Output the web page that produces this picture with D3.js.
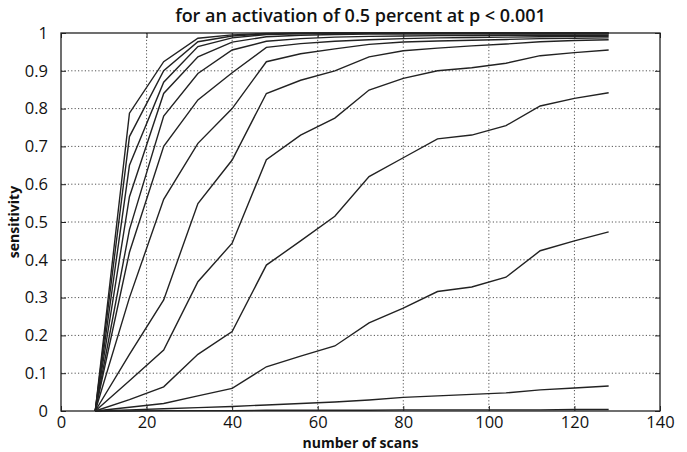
<!DOCTYPE html>
<html>
<head>
<meta charset="utf-8">
<script src="https://cdn.jsdelivr.net/npm/d3@7"></script>
<style>
body { margin: 0; background: #fff; }
text { font-family: "Open Sans", sans-serif; fill: #111; }
</style>
</head>
<body>
<svg id="chart"></svg>
<script>
// number of scans (x positions of every curve)
var scans = [8, 16, 24, 32, 40, 48, 56, 64, 72, 80, 88, 96, 104, 112, 120, 128];

// sensitivity curves, highest to lowest
var s1  = [0, 0.788, 0.924, 0.986, 0.995, 0.999, 1, 1, 1, 1, 1, 1, 1, 1, 1, 1];
var s2  = [0, 0.726, 0.900, 0.977, 0.992, 0.998, 0.999, 1, 1, 1, 1, 1, 1, 1, 1, 1];
var s3  = [0, 0.650, 0.870, 0.964, 0.987, 0.996, 0.998, 0.999, 0.999, 0.999, 0.999, 0.999, 0.999, 0.999, 0.999, 0.999];
var s4  = [0, 0.567, 0.840, 0.937, 0.976, 0.990, 0.994, 0.996, 0.997, 0.997, 0.997, 0.997, 0.997, 0.997, 0.997, 0.997];
var s5  = [0, 0.480, 0.780, 0.893, 0.955, 0.978, 0.985, 0.989, 0.991, 0.992, 0.993, 0.993, 0.994, 0.994, 0.994, 0.994];
var s6  = [0, 0.420, 0.700, 0.823, 0.895, 0.962, 0.972, 0.978, 0.982, 0.985, 0.987, 0.988, 0.989, 0.990, 0.991, 0.991];
var s7  = [0, 0.300, 0.560, 0.708, 0.800, 0.924, 0.945, 0.958, 0.970, 0.976, 0.979, 0.981, 0.983, 0.985, 0.986, 0.987];
var s8  = [0, 0.150, 0.294, 0.549, 0.664, 0.840, 0.875, 0.900, 0.937, 0.953, 0.960, 0.966, 0.971, 0.977, 0.980, 0.982];
var s9  = [0, 0.080, 0.161, 0.342, 0.444, 0.665, 0.730, 0.775, 0.849, 0.880, 0.900, 0.908, 0.920, 0.940, 0.948, 0.955];
var s10 = [0, 0.030, 0.064, 0.150, 0.210, 0.386, 0.450, 0.515, 0.620, 0.670, 0.720, 0.730, 0.755, 0.807, 0.827, 0.842];
var s11 = [0, 0.010, 0.020, 0.040, 0.060, 0.117, 0.145, 0.172, 0.233, 0.272, 0.316, 0.328, 0.354, 0.424, 0.450, 0.474];
var s12 = [0, 0.003, 0.006, 0.009, 0.012, 0.016, 0.020, 0.024, 0.029, 0.036, 0.040, 0.044, 0.048, 0.056, 0.061, 0.066];
var s13 = [0, 0, 0.001, 0.001, 0.001, 0.002, 0.002, 0.002, 0.002, 0.003, 0.003, 0.003, 0.003, 0.003, 0.004, 0.004];
var series = [s1, s2, s3, s4, s5, s6, s7, s8, s9, s10, s11, s12, s13];

var xTicks = [0, 20, 40, 60, 80, 100, 120, 140];
var yTicks = [0, 0.1, 0.2, 0.3, 0.4, 0.5, 0.6, 0.7, 0.8, 0.9, 1];
var yTickLabels = ["0", "0.1", "0.2", "0.3", "0.4", "0.5", "0.6", "0.7", "0.8", "0.9", "1"];

var margin = {top: 33, right: 27, bottom: 41, left: 61},
    width = 687 - margin.left - margin.right,
    height = 452 - margin.top - margin.bottom;

var svg = d3.select("#chart")
    .attr("width", 687)
    .attr("height", 452)
  .append("g")
    .attr("transform", "translate(" + margin.left + "," + margin.top + ")");

var x = d3.scaleLinear().domain([0, 140]).range([0, width]);
var y = d3.scaleLinear().domain([0, 1]).range([height, 0]);

// dotted grid
var grid = svg.append("g").attr("class", "grid");

grid.selectAll("line.gx")
    .data(xTicks.slice(1, -1))
  .enter().append("line")
    .attr("x1", function(d) { return x(d); })
    .attr("x2", function(d) { return x(d); })
    .attr("y1", 0)
    .attr("y2", height);

grid.selectAll("line.gy")
    .data(yTicks.slice(1, -1))
  .enter().append("line")
    .attr("x1", 0)
    .attr("x2", width)
    .attr("y1", function(d) { return y(d); })
    .attr("y2", function(d) { return y(d); });

grid.selectAll("line")
    .style("stroke", "#555")
    .style("stroke-width", 1)
    .style("stroke-dasharray", "1.2,2.2");

// axes, ticks pointing inward like matlab
var xAxis = d3.axisBottom(x).tickValues(xTicks).tickSizeInner(-5).tickSizeOuter(0).tickPadding(5);
var yAxis = d3.axisLeft(y).tickValues(yTicks).tickSizeInner(-5).tickSizeOuter(0).tickPadding(13)
    .tickFormat(function(d, i) { return yTickLabels[i]; });

svg.append("g")
    .attr("class", "x axis")
    .attr("transform", "translate(0," + height + ")")
    .call(xAxis);

svg.append("g")
    .attr("class", "y axis")
    .call(yAxis);

svg.append("g")
    .attr("transform", "translate(" + width + ",0)")
    .call(d3.axisRight(y).tickValues(yTicks).tickSizeInner(-5).tickSizeOuter(0).tickFormat(""));

svg.append("g")
    .call(d3.axisTop(x).tickValues(xTicks).tickSizeInner(-5).tickSizeOuter(0).tickFormat(""));

svg.selectAll(".domain").remove();
svg.selectAll(".tick line").style("stroke", "#222");
svg.selectAll(".axis text")
    .style("font-size", "16.5px")
    .style("fill", "#111");

svg.append("rect")
    .attr("width", width)
    .attr("height", height)
    .style("fill", "none")
    .style("stroke", "#222")
    .style("stroke-width", 1.3);

// curves
var line = d3.line()
    .x(function(d, i) { return x(scans[i]); })
    .y(function(d) { return y(d); });

svg.selectAll(".curve")
    .data(series)
  .enter().append("path")
    .attr("class", "curve")
    .attr("d", line)
    .style("fill", "none")
    .style("stroke", "#222")
    .style("stroke-width", 1.4);

// labels
svg.append("text")
    .attr("x", width / 2)
    .attr("y", -11)
    .style("text-anchor", "middle")
    .style("font-size", "18px")
    .style("font-weight", "600")
    .text("for an activation of 0.5 percent at p < 0.001");

svg.append("text")
    .attr("x", width / 2)
    .attr("y", height + 37)
    .style("text-anchor", "middle")
    .style("font-size", "14px")
    .style("font-weight", "700")
    .text("number of scans");

svg.append("text")
    .attr("transform", "rotate(-90)")
    .attr("x", -height / 2)
    .attr("y", -42)
    .style("text-anchor", "middle")
    .style("font-size", "14px")
    .style("font-weight", "700")
    .text("sensitivity");
</script>
</body>
</html>
